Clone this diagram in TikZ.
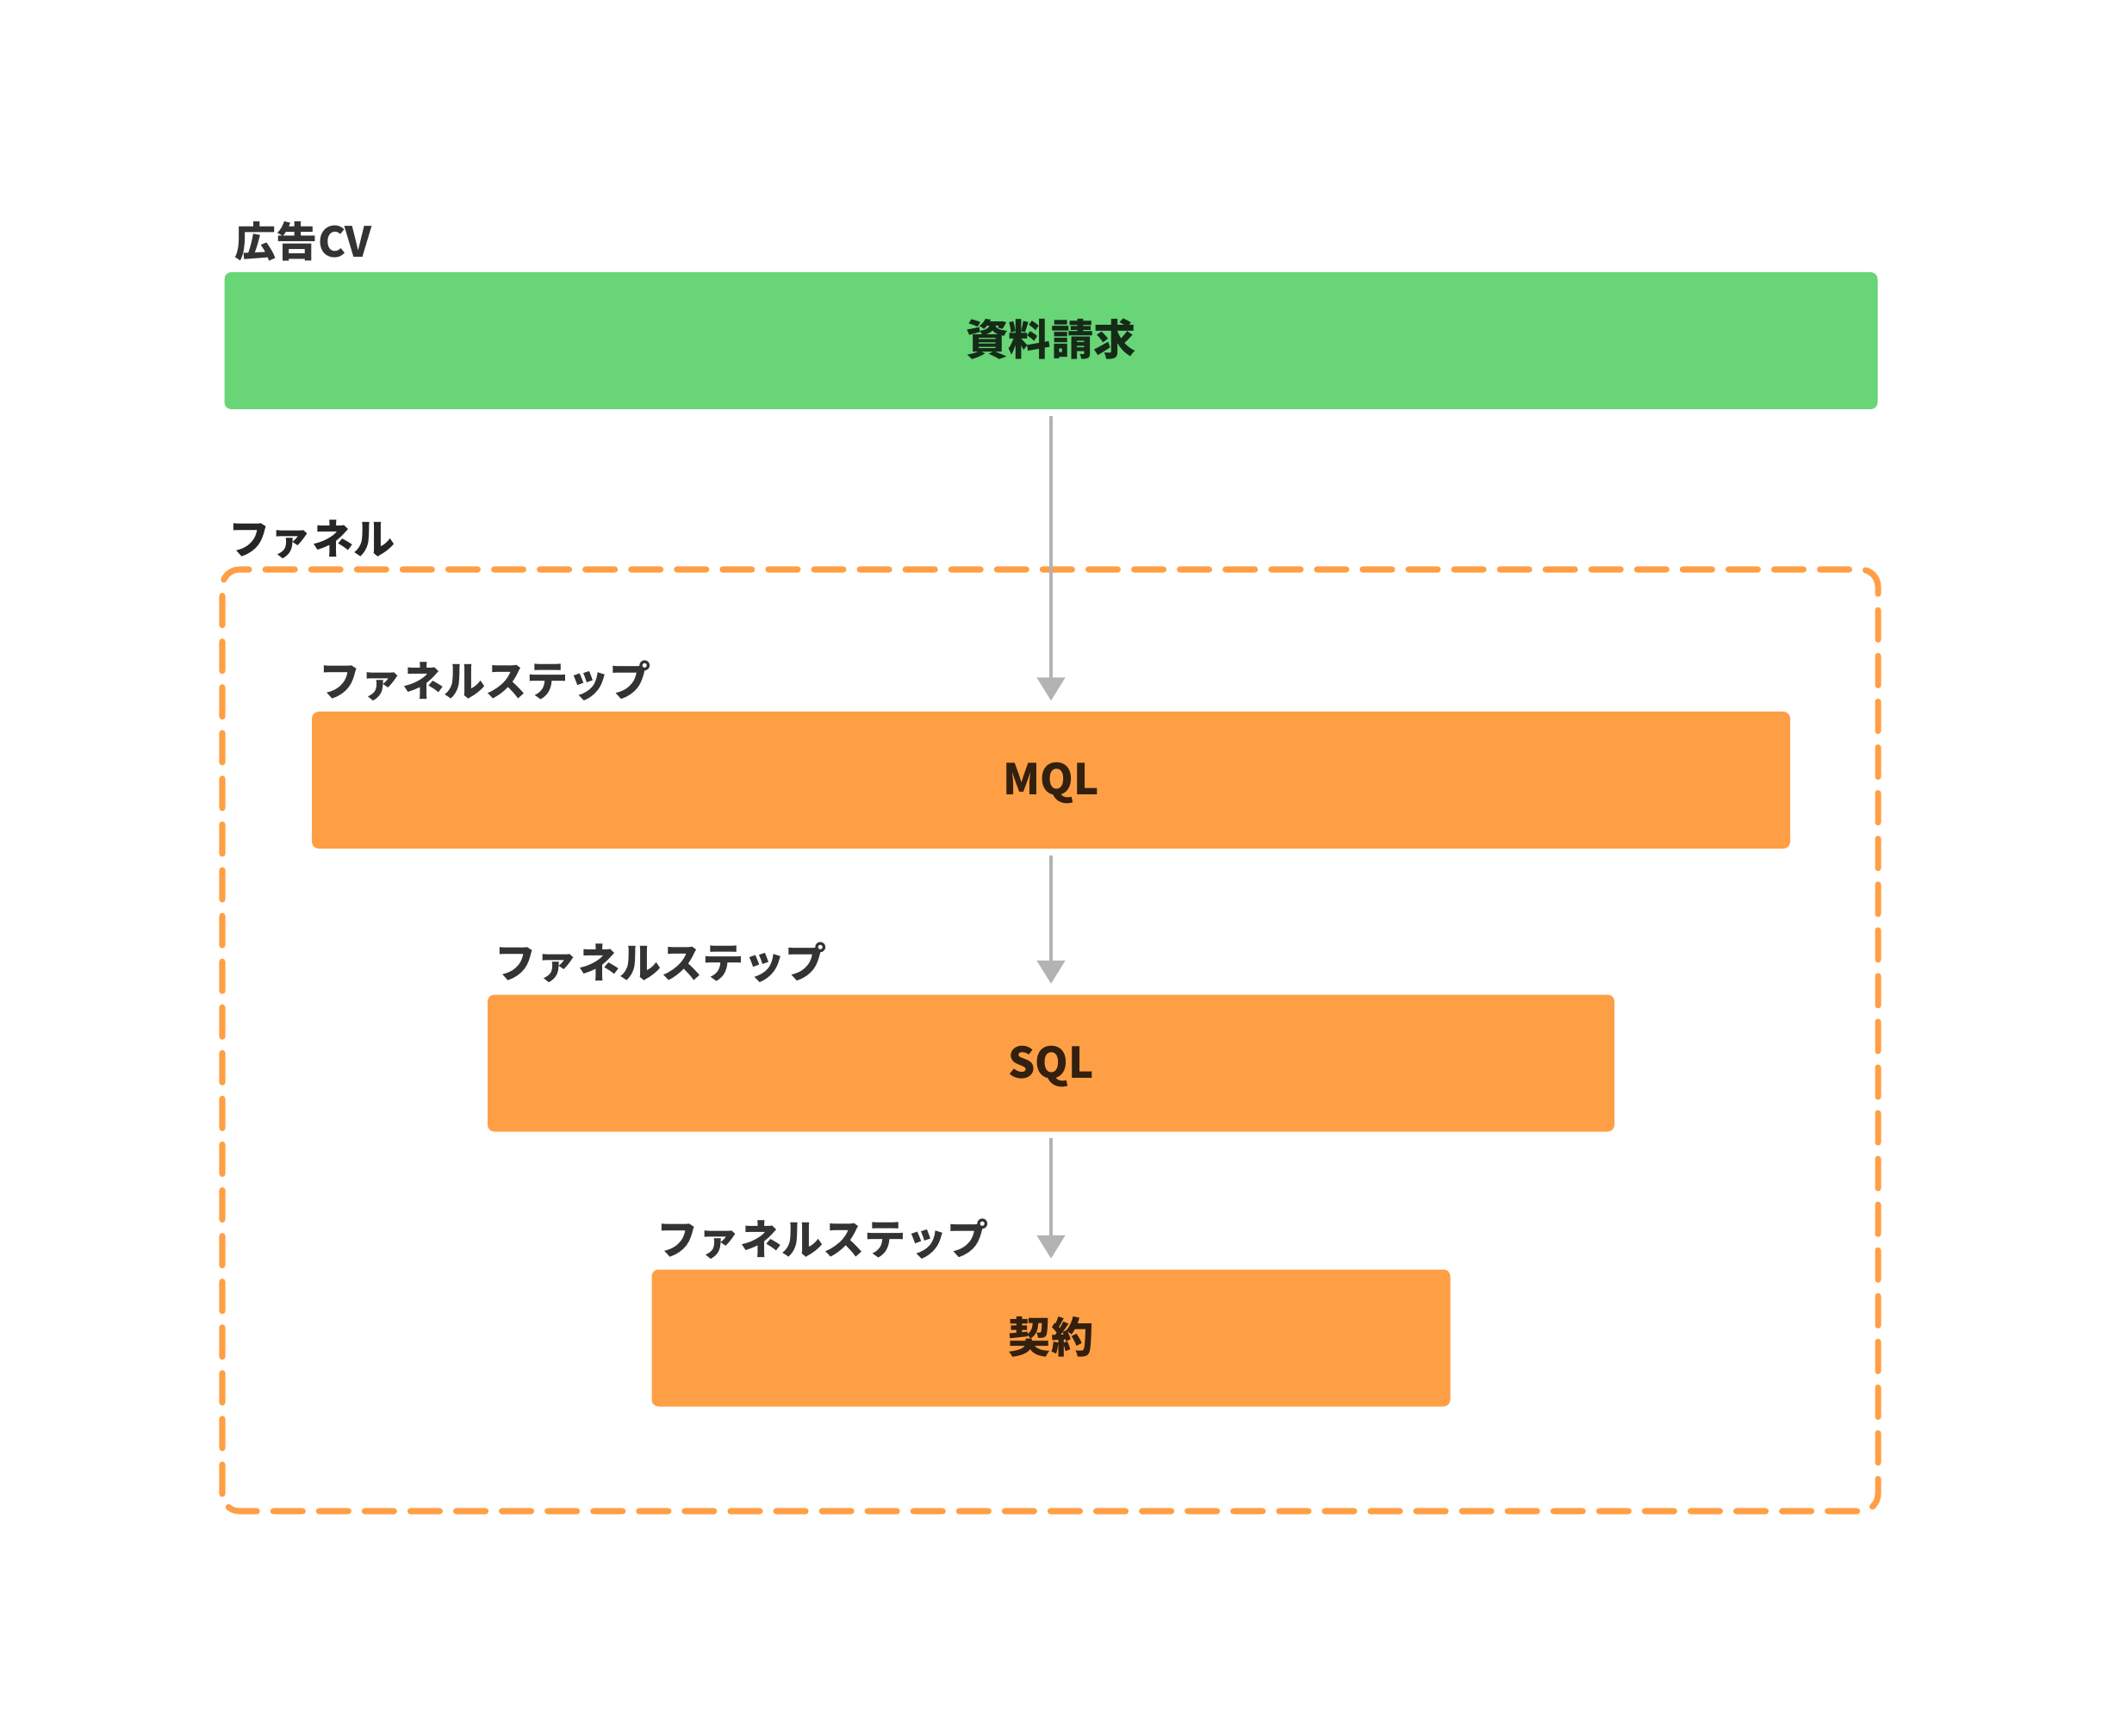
\documentclass[tikz,border=0pt]{standalone}
\usepackage{fontspec}
\setmainfont{Noto Sans CJK JP}
\usetikzlibrary{arrows.meta}

\definecolor{cvgreen}{HTML}{68D577}
\definecolor{funnelorange}{HTML}{FF9F45}
\definecolor{arrowgray}{HTML}{B3B3B3}
\definecolor{labelgray}{HTML}{333333}

\tikzset{
  stepbox/.style={rounded corners=0.08cm, minimum height=1.59cm, inner sep=0pt,
    text height=1.1em, text depth=0.12em,
    font=\fontsize{14pt}{17pt}\selectfont\bfseries},
  steplabel/.style={anchor=west, inner sep=0pt, text=labelgray,
    font=\fontsize{13.7pt}{16pt}\selectfont\bfseries},
  flow/.style={draw=arrowgray, line width=1.4pt,
    -{Triangle[width=0.32cm,length=0.27cm]}, shorten <=0.07cm, shorten >=0.12cm}
}

\begin{document}
\begin{tikzpicture}

\useasboundingbox (0,0) rectangle (24.4,20.14);

\def\x{12.2}

% ad conversion
\node[stepbox, fill=cvgreen, text=cvgreen!20!black, minimum width=19.19cm] (cv) at (\x, 16.185) {資料請求};
\node[steplabel] (cvlabel) at (2.72, 17.34) {広告CV};

% funnel frame
\draw[funnelorange, line width=2pt, dash pattern=on 9.7pt off 5.4pt, line cap=round, rounded corners=0.2cm]
  (2.58, 2.60) rectangle (21.80, 13.53);
\node[steplabel, text=black!85] (funnellabel) at (2.65, 13.88) {ファネル};

% funnel steps
\node[stepbox, fill=funnelorange, text=funnelorange!20!black, minimum width=17.16cm] (mql) at (\x, 11.085) {MQL};
\node[steplabel] (mqllabel) at (3.70, 12.24) {ファネルステップ};

\node[stepbox, fill=funnelorange, text=funnelorange!20!black, minimum width=13.08cm] (sql) at (\x, 7.80) {SQL};
\node[steplabel] (sqllabel) at (5.74, 8.97) {ファネルステップ};

\node[stepbox, fill=funnelorange, text=funnelorange!20!black, minimum width=9.27cm] (deal) at (\x, 4.61) {契約};
\node[steplabel] (deallabel) at (7.62, 5.76) {ファネルステップ};

% arrows
\draw[flow] (cv) -- (mql);
\draw[flow] (mql) -- (sql);
\draw[flow] (sql) -- (deal);

\end{tikzpicture}
\end{document}
